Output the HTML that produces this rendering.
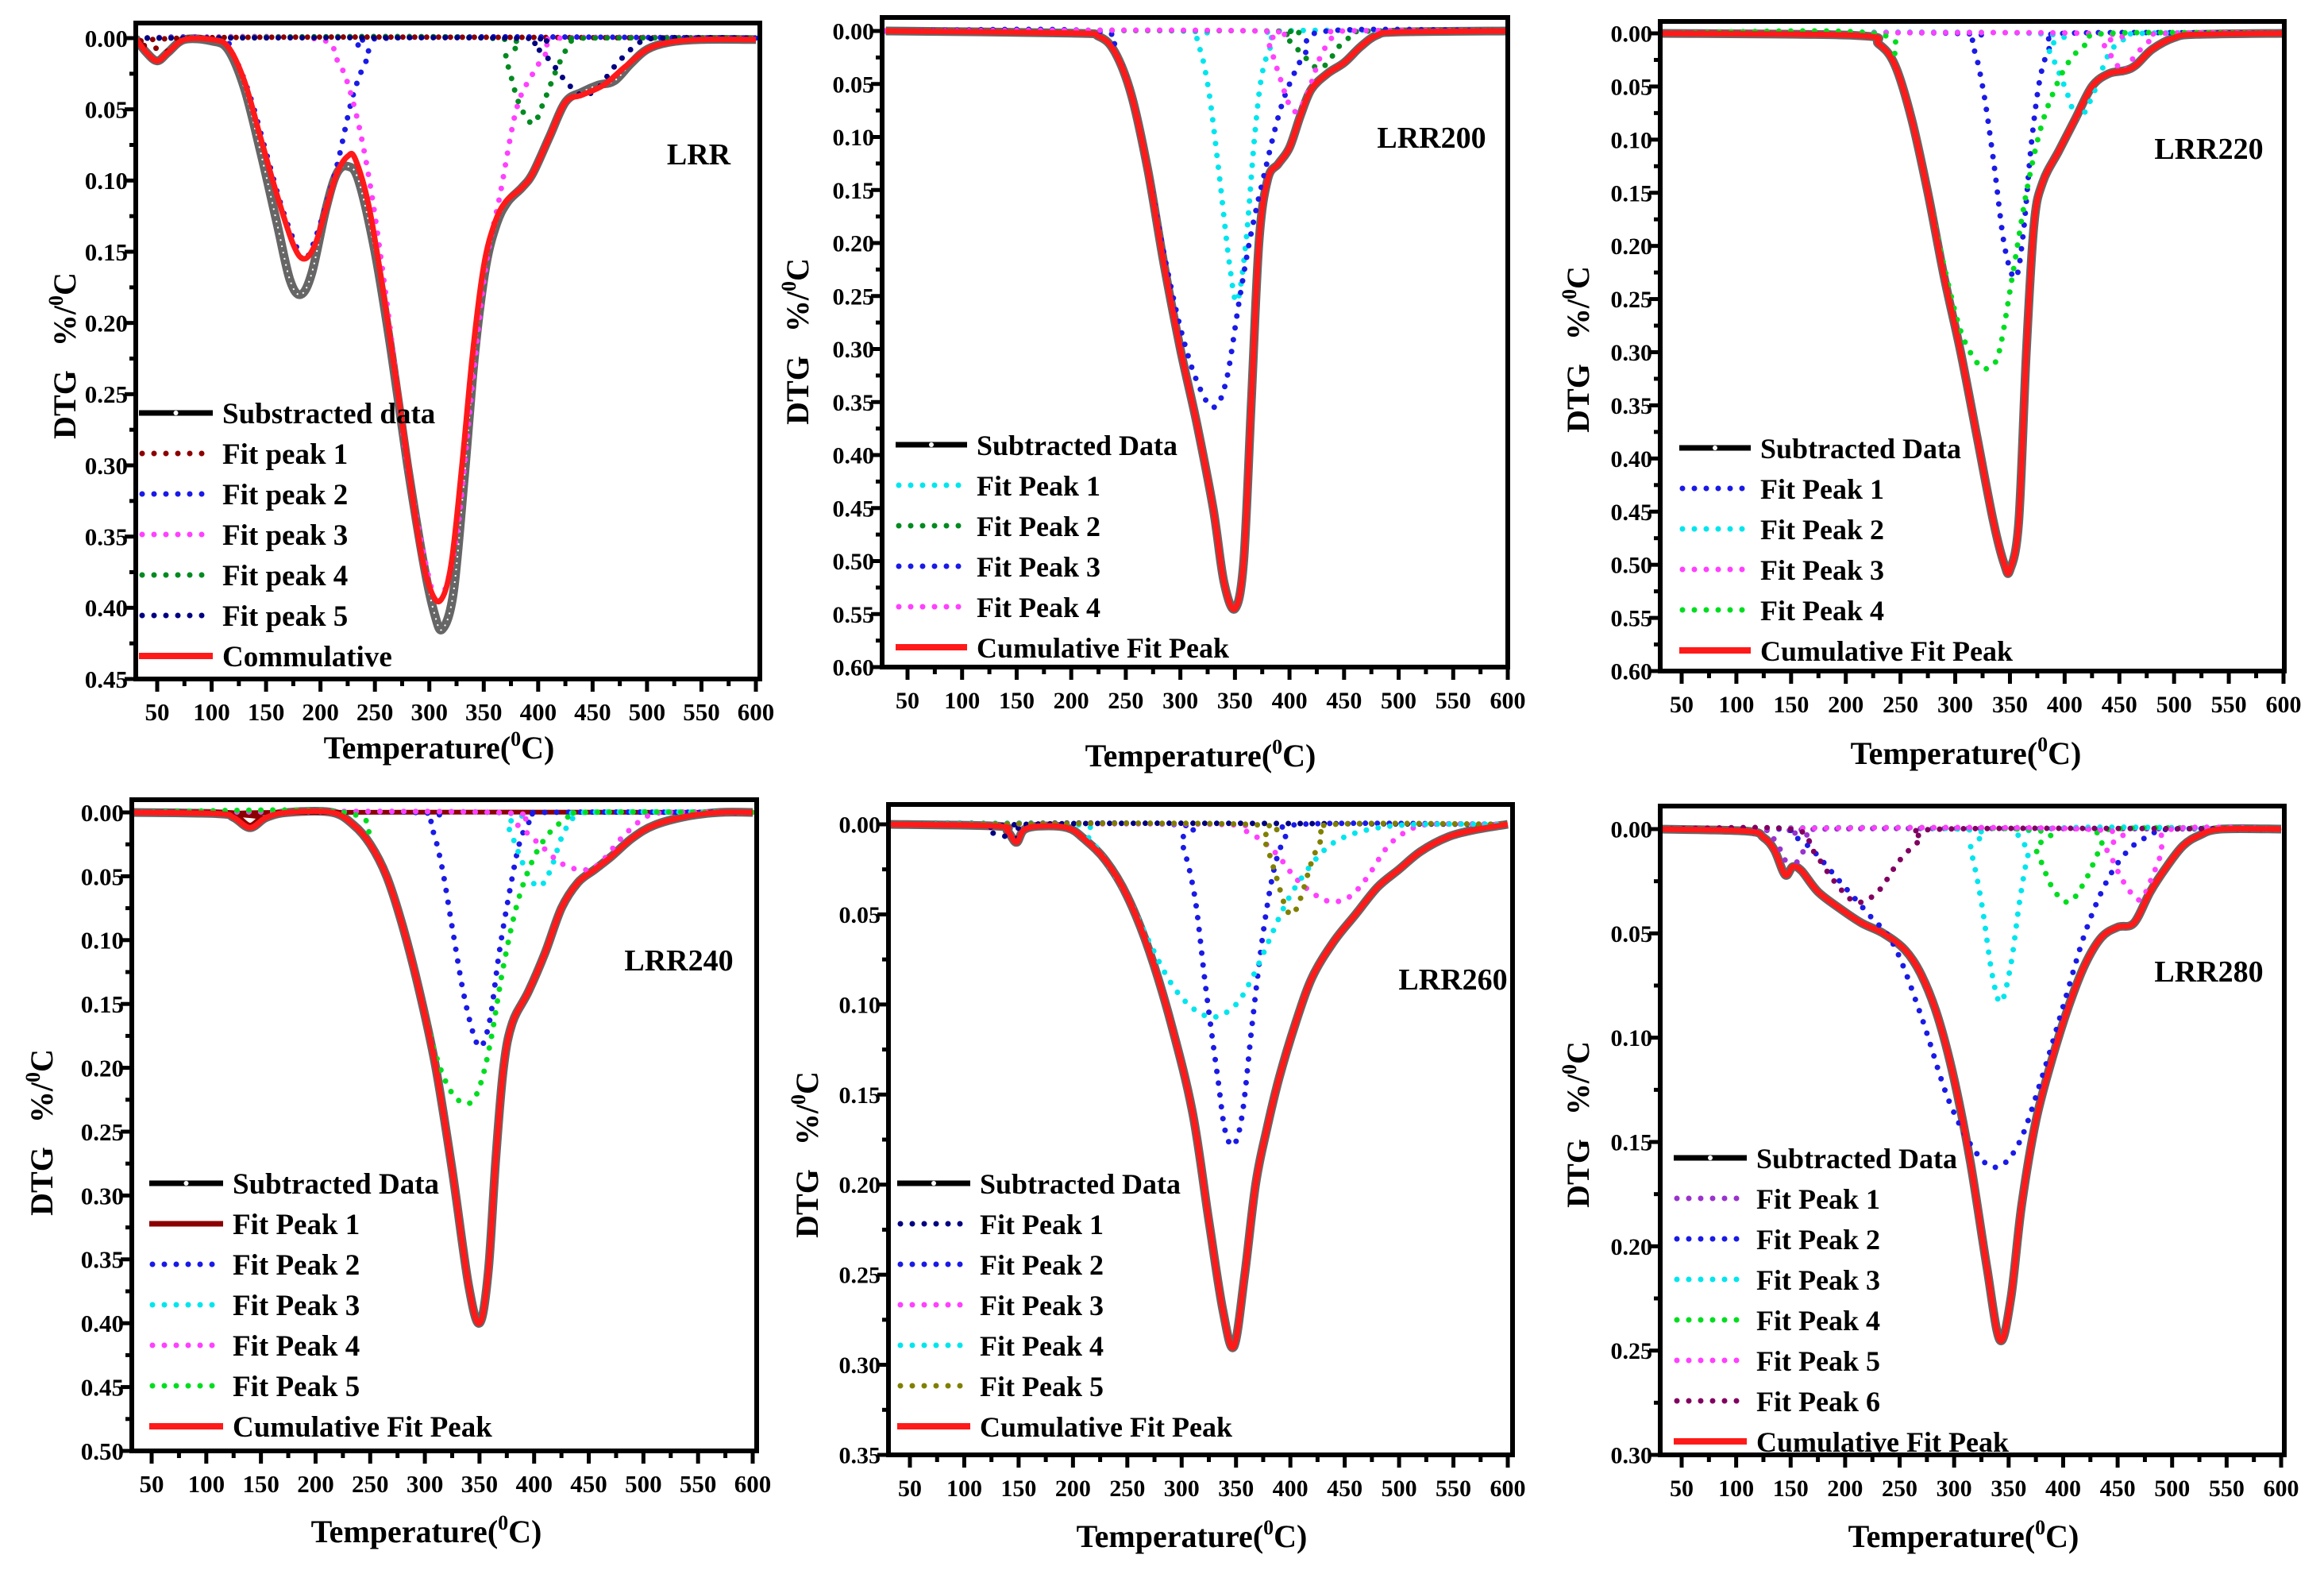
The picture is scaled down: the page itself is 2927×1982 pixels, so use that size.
<!DOCTYPE html>
<html><head><meta charset="utf-8"><style>
html,body{margin:0;padding:0;background:#fff;}
svg text{font-family:"Liberation Serif",serif;font-weight:bold;fill:#000;}
</style></head>
<body>
<svg id="fig" xmlns="http://www.w3.org/2000/svg" width="2927" height="1977" viewBox="0 0 2927 1977">
<rect width="2927" height="1977" fill="#fff"/>
</svg>
<script>
// ---------- DATA (temperature °C, DTG %/°C) ----------
const p1Sub=[[30,0],[40,0.01],[50,0.016],[60,0.01],[75,0.001],[100,0.002],[115,0.008],[130,0.035],[145,0.08],[160,0.13],[172,0.17],[182,0.18],[192,0.165],[205,0.12],[215,0.095],[225,0.09],[235,0.1],[250,0.15],[265,0.22],[280,0.3],[295,0.37],[305,0.405],[312,0.415],[322,0.39],[332,0.31],[342,0.22],[352,0.16],[362,0.13],[372,0.115],[385,0.105],[395,0.095],[410,0.07],[425,0.045],[440,0.038],[455,0.033],[470,0.03],[485,0.018],[500,0.008],[520,0.003],[550,0.001],[600,0.001]];
const p1Cum=[[30,0],[40,0.01],[50,0.016],[60,0.01],[75,0.001],[100,0.001],[115,0.006],[130,0.03],[145,0.07],[160,0.11],[175,0.145],[185,0.155],[195,0.145],[205,0.12],[215,0.095],[225,0.083],[232,0.085],[245,0.12],[260,0.19],[275,0.27],[290,0.35],[300,0.385],[310,0.395],[320,0.37],[330,0.3],[340,0.22],[350,0.16],[360,0.13],[370,0.115],[385,0.105],[395,0.095],[410,0.07],[425,0.045],[440,0.04],[460,0.033],[480,0.02],[500,0.008],[520,0.003],[550,0.001],[600,0.001]];
const p1Peak1=[[30,0],[40,0.01],[50,0.016],[60,0.01],[75,0],[600,0]];
const p1Peak2=[[30,0],[105,0],[120,0.012],[135,0.04],[150,0.08],[165,0.12],[180,0.15],[187,0.155],[200,0.13],[215,0.09],[230,0.04],[245,0.012],[262,0],[600,0]];
const p1Peak3=[[30,0],[190,0],[215,0.015],[230,0.045],[245,0.1],[260,0.18],[280,0.3],[300,0.38],[310,0.395],[325,0.35],[340,0.24],[352,0.16],[365,0.11],[380,0.05],[395,0.025],[410,0.008],[420,0],[600,0]];
const p1Peak4=[[30,0],[355,0],[370,0.015],[382,0.045],[395,0.06],[405,0.045],[418,0.02],[430,0.003],[440,0],[600,0]];
const p1Peak5=[[30,0],[380,0],[395,0.005],[410,0.015],[425,0.03],[440,0.04],[455,0.035],[470,0.02],[490,0.005],[510,0],[600,0]];

const p2Cum=[[30,0],[200,0.002],[225,0.005],[240,0.02],[255,0.06],[270,0.13],[285,0.22],[300,0.3],[315,0.37],[330,0.45],[340,0.52],[350,0.545],[358,0.5],[365,0.35],[372,0.2],[380,0.14],[390,0.125],[400,0.11],[410,0.08],[420,0.055],[435,0.04],[450,0.03],[465,0.015],[480,0.004],[500,0.001],[600,0]];
const p2Peak1=[[30,0],[300,0],[315,0.01],[325,0.05],[335,0.13],[345,0.22],[352,0.255],[360,0.2],[368,0.1],[375,0.04],[385,0.01],[395,0],[600,0]];
const p2Peak2=[[30,0],[380,0],[395,0.005],[410,0.02],[425,0.035],[435,0.03],[445,0.015],[460,0.003],[475,0],[600,0]];
const p2Peak3=[[30,0],[220,0],[240,0.02],[255,0.06],[270,0.13],[285,0.21],[300,0.28],[315,0.33],[330,0.355],[342,0.33],[354,0.254],[365,0.19],[378,0.13],[390,0.08],[400,0.05],[415,0.02],[435,0],[600,0]];
const p2Peak4=[[30,0],[370,0],[380,0.01],[390,0.04],[400,0.07],[408,0.075],[418,0.055],[428,0.025],[440,0.005],[450,0],[600,0]];

const p3Cum=[[30,0],[210,0.002],[230,0.01],[245,0.03],[260,0.08],[275,0.15],[290,0.23],[305,0.3],[320,0.38],[335,0.46],[345,0.5],[350,0.505],[358,0.46],[365,0.3],[372,0.18],[380,0.14],[395,0.11],[410,0.08],[425,0.05],[440,0.038],[455,0.035],[465,0.03],[480,0.015],[500,0.004],[520,0.001],[600,0]];
const p3Peak1=[[30,0],[300,0],[315,0.01],[325,0.05],[335,0.12],[345,0.2],[355,0.23],[362,0.19],[370,0.1],[378,0.04],[388,0.01],[400,0],[600,0]];
const p3Peak2=[[30,0],[370,0],[385,0.015],[400,0.05],[412,0.08],[425,0.06],[440,0.02],[455,0.005],[470,0],[600,0]];
const p3Peak3=[[30,0],[420,0],[435,0.01],[448,0.03],[455,0.035],[465,0.02],[480,0.005],[490,0],[600,0]];
const p3Peak4=[[30,0],[225,0],[245,0.03],[260,0.08],[275,0.15],[290,0.22],[305,0.28],[320,0.31],[330,0.315],[340,0.3],[352,0.23],[365,0.15],[378,0.09],[392,0.05],[405,0.025],[420,0.01],[440,0],[600,0]];

const p4Cum=[[30,0],[110,0.001],[125,0.004],[140,0.012],[155,0.004],[175,0],[215,0],[235,0.01],[250,0.025],[265,0.05],[280,0.09],[295,0.14],[310,0.2],[325,0.28],[340,0.37],[350,0.4],[358,0.36],[365,0.27],[372,0.2],[380,0.165],[395,0.14],[410,0.11],[425,0.075],[440,0.055],[455,0.045],[470,0.035],[490,0.02],[510,0.01],[540,0.003],[570,0],[600,0]];
const p4Peak1=[[30,0],[120,0],[130,0.004],[140,0.01],[150,0.004],[160,0],[600,0]];
const p4Peak2=[[30,0],[290,0],[305,0.01],[315,0.04],[325,0.09],[335,0.14],[345,0.175],[352,0.183],[360,0.16],[368,0.11],[378,0.06],[388,0.02],[400,0.003],[410,0],[600,0]];
const p4Peak3=[[30,0],[360,0],[375,0.01],[385,0.03],[395,0.05],[405,0.058],[415,0.045],[425,0.02],[435,0.005],[445,0],[600,0]];
const p4Peak4=[[30,0],[365,0],[385,0.01],[405,0.025],[425,0.04],[445,0.045],[460,0.04],[480,0.02],[500,0.005],[520,0],[600,0]];
const p4Peak5=[[30,0],[225,0],[250,0.025],[265,0.05],[280,0.09],[295,0.14],[310,0.19],[325,0.22],[340,0.228],[350,0.215],[360,0.18],[372,0.12],[385,0.07],[400,0.035],[415,0.015],[430,0.005],[445,0],[600,0]];

const p5Cum=[[30,0],[130,0.001],[140,0.004],[148,0.01],[155,0.003],[170,0.001],[195,0.002],[210,0.008],[230,0.02],[250,0.04],[270,0.07],[290,0.11],[310,0.16],[325,0.22],[338,0.27],[348,0.29],[358,0.25],[368,0.2],[378,0.17],[390,0.14],[405,0.11],[420,0.085],[440,0.065],[460,0.05],[480,0.035],[500,0.025],[520,0.015],[545,0.007],[570,0.003],[600,0]];
const p5Peak1=[[30,0],[140,0],[148,0.008],[156,0],[600,0]];
const p5Peak2=[[30,0],[290,0],[300,0.01],[312,0.04],[322,0.09],[333,0.14],[340,0.17],[348,0.178],[356,0.16],[365,0.11],[375,0.06],[385,0.025],[395,0.008],[410,0],[600,0]];
const p5Peak3=[[30,0],[330,0],[360,0.004],[385,0.015],[405,0.03],[425,0.04],[440,0.043],[455,0.04],[470,0.03],[490,0.012],[510,0.003],[530,0],[600,0]];
const p5Peak4=[[30,0],[200,0],[215,0.008],[230,0.02],[250,0.04],[270,0.065],[290,0.088],[310,0.102],[330,0.107],[350,0.1],[365,0.085],[380,0.065],[395,0.045],[410,0.03],[430,0.015],[450,0.007],[480,0.002],[520,0],[600,0]];
const p5Peak5=[[30,0],[360,0],[375,0.008],[385,0.025],[395,0.045],[402,0.05],[410,0.04],[420,0.02],[430,0.007],[440,0],[600,0]];

const p6Cum=[[30,0],[110,0.001],[125,0.004],[135,0.01],[145,0.022],[152,0.018],[160,0.02],[175,0.03],[195,0.038],[215,0.045],[235,0.05],[255,0.058],[270,0.07],[285,0.09],[300,0.12],[315,0.16],[330,0.21],[342,0.245],[352,0.225],[362,0.18],[375,0.14],[390,0.11],[405,0.085],[420,0.065],[435,0.052],[450,0.047],[465,0.045],[480,0.03],[495,0.018],[510,0.008],[525,0.003],[545,0],[600,0]];
const p6Peak1=[[30,0],[120,0],[135,0.005],[145,0.015],[150,0.02],[160,0.012],[170,0.004],[180,0],[600,0]];
const p6Peak2=[[30,0],[140,0],[155,0.004],[170,0.01],[195,0.025],[220,0.04],[245,0.056],[270,0.09],[295,0.13],[320,0.155],[340,0.162],[360,0.15],[380,0.12],[400,0.085],[420,0.05],[440,0.025],[460,0.01],[480,0.003],[500,0],[600,0]];
const p6Peak3=[[30,0],[305,0],[315,0.01],[325,0.035],[335,0.07],[343,0.083],[352,0.065],[360,0.035],[368,0.012],[378,0],[600,0]];
const p6Peak4=[[30,0],[360,0],[375,0.01],[390,0.028],[405,0.035],[420,0.025],[435,0.008],[445,0],[600,0]];
const p6Peak5=[[30,0],[420,0],[440,0.01],[455,0.025],[470,0.034],[480,0.025],[490,0.012],[500,0],[600,0]];
const p6Peak6=[[30,0],[150,0],[170,0.01],[190,0.025],[210,0.035],[230,0.03],[250,0.015],[270,0.005],[290,0],[600,0]];

const xTicks=[50,100,150,200,250,300,350,400,450,500,550,600];

// ---------- RENDER ----------
const NS="http://www.w3.org/2000/svg";
const svg=document.getElementById('fig');
function mk(tag,attrs,parent){const e=document.createElementNS(NS,tag);for(const k in attrs)e.setAttribute(k,attrs[k]);(parent||svg).appendChild(e);return e;}
function smooth(pts){
  let d='M'+pts[0][0].toFixed(1)+' '+pts[0][1].toFixed(1);
  for(let i=0;i<pts.length-1;i++){
    const p0=pts[Math.max(0,i-1)],p1=pts[i],p2=pts[i+1],p3=pts[Math.min(pts.length-1,i+2)];
    const c1x=p1[0]+(p2[0]-p0[0])/6,c1y=p1[1]+(p2[1]-p0[1])/6;
    const c2x=p2[0]-(p3[0]-p1[0])/6,c2y=p2[1]-(p3[1]-p1[1])/6;
    d+=' C'+c1x.toFixed(1)+' '+c1y.toFixed(1)+' '+c2x.toFixed(1)+' '+c2y.toFixed(1)+' '+p2[0].toFixed(1)+' '+p2[1].toFixed(1);
  }
  return d;
}
const DOT={'stroke-dasharray':'0 15','stroke-linecap':'round','stroke-width':7};

function panel(cfg,idx){
  const g=mk('g',{});
  
  
  const [L,T,R,B]=cfg.frame;
  const sx=(cfg.x600-cfg.x50)/550;
  const X=t=>cfg.x50+(t-50)*sx;
  const Y=v=>cfg.y0+v*(B-cfg.y0)/cfg.ymax;
  const cid='clip'+idx;
  const cp=mk('clipPath',{id:cid},g);mk('rect',{x:L,y:T,width:R-L,height:B-T},cp);
  const fs=cfg.fs;
  const yt=mk('g',{},g);
  
  
  const nMaj=Math.round(cfg.ymax/0.05);
  for(let i=0;i<=nMaj;i++){
    const v=i*0.05,y=Y(v);
    mk('line',{x1:L-14,x2:L,y1:y,y2:y,stroke:'#000','stroke-width':5},yt);
    const tx=mk('text',{x:L-10,y:y+fs*0.35,'font-size':fs,'text-anchor':'end'},yt);
    tx.textContent=v.toFixed(2);
    if(i<nMaj){const ym=Y(v+0.025);mk('line',{x1:L-8,x2:L,y1:ym,y2:ym,stroke:'#000','stroke-width':5},yt);}
  }
  const xt=mk('g',{},g);
  
  
  xTicks.forEach(t=>{
    const x=X(t);
    mk('line',{x1:x,x2:x,y1:B,y2:B+16,stroke:'#000','stroke-width':5},xt);
    const tx=mk('text',{x:x,y:B+52,'font-size':fs,'text-anchor':'middle'},xt);
    tx.textContent=t;
    const xm=X(t-25);if(xm>L)mk('line',{x1:xm,x2:xm,y1:B,y2:B+9,stroke:'#000','stroke-width':5},xt);
  });
  const cg=mk('g',{'clip-path':'url(#'+cid+')'},g);
  const toPx=a=>a.map(p=>[X(p[0]),Y(p[1])]);
  const sub=mk('path',{d:smooth(toPx(cfg.sub)),fill:'none',stroke:'#333','stroke-width':11,'stroke-opacity':0.75},cg);
  
  
  const subw=mk('path',{d:smooth(toPx(cfg.sub)),fill:'none',stroke:'#fff','stroke-width':2,'stroke-dasharray':'2 6'},cg);
  
  
  cfg.peaks.forEach((pk,i)=>{
    const a=Object.assign({d:smooth(toPx(pk.data)),fill:'none',stroke:pk.color},pk.solid?{'stroke-width':6}:DOT);
    const p=mk('path',a,cg);
    
    
  });
  const cum=mk('path',{d:smooth(toPx(cfg.cum)),fill:'none',stroke:'#ff1a1a','stroke-width':7,'stroke-linejoin':'round'},cg);
  
  
  const fr=mk('rect',{x:L,y:T,width:R-L,height:B-T,fill:'none',stroke:'#000','stroke-width':6},g);
  
  
  const lg=mk('g',{},g);
  
  
  const items=[{t:cfg.subName,c:'#000',sub:true}].concat(cfg.peaks.map((p,i)=>({t:cfg.peakName+' '+(i+1),c:p.color,solid:p.solid}))).concat([{t:cfg.cumName,c:'#ff1a1a',cum:true}]);
  items.forEach((it,i)=>{
    const y=cfg.lgY+i*cfg.lgDy;
    const e=mk('g',{},lg);
    
    
    if(it.sub){mk('line',{x1:cfg.lgX1,x2:cfg.lgX2,y1:y,y2:y,stroke:'#000','stroke-width':7},e);mk('circle',{cx:(cfg.lgX1+cfg.lgX2)/2,cy:y,r:3,fill:'#fff'},e);}
    else if(it.cum||it.solid)mk('line',{x1:cfg.lgX1,x2:cfg.lgX2,y1:y,y2:y,stroke:it.c,'stroke-width':it.cum?8:7},e);
    else mk('line',Object.assign({x1:cfg.lgX1+4,x2:cfg.lgX2,y1:y,y2:y,stroke:it.c},DOT),e);
    const tx=mk('text',{x:cfg.lgX2+12,y:y+13,'font-size':cfg.lfs},e);tx.textContent=it.t;
  });
  const lb=mk('text',{x:cfg.lab[0],y:cfg.lab[1],'font-size':38,'text-anchor':'middle'},g);
  
  
  lb.textContent=cfg.label;
  const xtl=mk('text',{x:cfg.xt[0],y:cfg.xt[1],'font-size':40,'text-anchor':'middle'},g);
  
  
  xtl.innerHTML='Temperature(<tspan dy="-16" font-size="26">0</tspan><tspan dy="16">C)</tspan>';
  const ytl=mk('text',{x:0,y:0,'font-size':40,'text-anchor':'middle',transform:'translate('+cfg.yt[0]+','+cfg.yt[1]+') rotate(-90)'},g);
  
  
  ytl.setAttribute('xml:space','preserve');
  ytl.innerHTML='DTG\u00a0\u00a0\u00a0%/<tspan dy="-16" font-size="26">0</tspan><tspan dy="16">C</tspan>';
}

panel({label:'LRR',frame:[171,29,957,855],x50:198,x600:952,y0:48,ymax:0.45,fs:31,
  sub:p1Sub,cum:p1Cum,peaks:[{data:p1Peak1,color:'#8b0000'},{data:p1Peak2,color:'#1a1ae6'},{data:p1Peak3,color:'#ff40ff'},{data:p1Peak4,color:'#008a20'},{data:p1Peak5,color:'#000080'}],
  subName:'Substracted data',peakName:'Fit peak',cumName:'Commulative',
  lgY:520,lgDy:51,lgX1:175,lgX2:268,lfs:37,lab:[880,207],xt:[553,955],yt:[95,448]},0);
panel({label:'LRR200',frame:[1111,22,1899,840],x50:1143,x600:1899,y0:39,ymax:0.6,fs:30,
  sub:p2Cum,cum:p2Cum,peaks:[{data:p2Peak1,color:'#00e5ee'},{data:p2Peak2,color:'#008a20'},{data:p2Peak3,color:'#1a1ae6'},{data:p2Peak4,color:'#ff40ff'}],
  subName:'Subtracted Data',peakName:'Fit Peak',cumName:'Cumulative Fit Peak',
  lgY:560,lgDy:51,lgX1:1128,lgX2:1218,lfs:36,lab:[1803,186],xt:[1512,965],yt:[1018,430]},1);
panel({label:'LRR220',frame:[2091,27,2877,845],x50:2118,x600:2876,y0:42,ymax:0.6,fs:30,
  sub:p3Cum,cum:p3Cum,peaks:[{data:p3Peak1,color:'#1a1ae6'},{data:p3Peak2,color:'#00e5ee'},{data:p3Peak3,color:'#ff40ff'},{data:p3Peak4,color:'#00dd20'}],
  subName:'Subtracted Data',peakName:'Fit Peak',cumName:'Cumulative Fit Peak',
  lgY:564,lgDy:51,lgX1:2115,lgX2:2205,lfs:36,lab:[2782,200],xt:[2476,962],yt:[2001,440]},2);
panel({label:'LRR240',frame:[166,1007,953,1827],x50:191,x600:948,y0:1023,ymax:0.5,fs:31,
  sub:p4Cum,cum:p4Cum,peaks:[{data:p4Peak1,color:'#8b0000',solid:true},{data:p4Peak2,color:'#1a1ae6'},{data:p4Peak3,color:'#00e5ee'},{data:p4Peak4,color:'#ff40ff'},{data:p4Peak5,color:'#00dd20'}],
  subName:'Subtracted Data',peakName:'Fit Peak',cumName:'Cumulative Fit Peak',
  lgY:1490,lgDy:51,lgX1:188,lgX2:281,lfs:37,lab:[855,1222],xt:[537,1942],yt:[66,1426]},3);
panel({label:'LRR260',frame:[1119,1013,1905,1832],x50:1146,x600:1899,y0:1038,ymax:0.35,fs:30,
  sub:p5Cum,cum:p5Cum,peaks:[{data:p5Peak1,color:'#000080'},{data:p5Peak2,color:'#1a1ae6'},{data:p5Peak3,color:'#ff40ff'},{data:p5Peak4,color:'#00e5ee'},{data:p5Peak5,color:'#808000'}],
  subName:'Subtracted Data',peakName:'Fit Peak',cumName:'Cumulative Fit Peak',
  lgY:1490,lgDy:51,lgX1:1130,lgX2:1222,lfs:36,lab:[1830,1246],xt:[1501,1948],yt:[1030,1454]},4);
panel({label:'LRR280',frame:[2091,1015,2877,1832],x50:2118,x600:2873,y0:1044,ymax:0.30,fs:30,
  sub:p6Cum,cum:p6Cum,peaks:[{data:p6Peak1,color:'#9933cc'},{data:p6Peak2,color:'#1a1ae6'},{data:p6Peak3,color:'#00e5ee'},{data:p6Peak4,color:'#00dd20'},{data:p6Peak5,color:'#ff40ff'},{data:p6Peak6,color:'#800060'}],
  subName:'Subtracted Data',peakName:'Fit Peak',cumName:'Cumulative Fit Peak',
  lgY:1458,lgDy:51,lgX1:2108,lgX2:2200,lfs:36,lab:[2782,1236],xt:[2473,1948],yt:[2001,1416]},5);
</script>
</body></html>
